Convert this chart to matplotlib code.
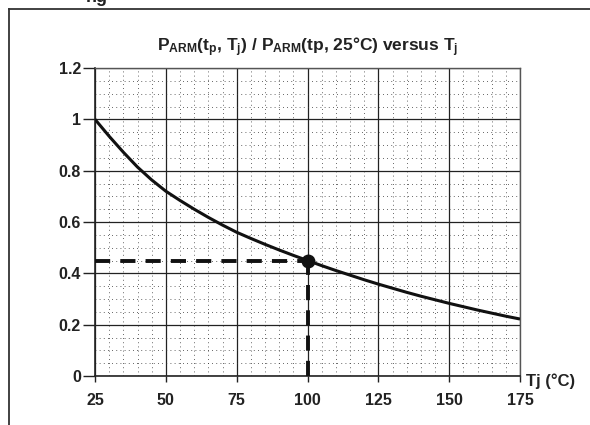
import numpy as np
import matplotlib
matplotlib.use('Agg')
import matplotlib.pyplot as plt
from matplotlib.lines import Line2D

plt.rcParams['font.family'] = ['Liberation Sans', 'DejaVu Sans']
plt.rcParams['font.weight'] = 'bold'
plt.rcParams['mathtext.fontset'] = 'custom'
plt.rcParams['mathtext.rm'] = 'Liberation Sans:bold'
plt.rcParams['mathtext.it'] = 'Liberation Sans:bold'
plt.rcParams['mathtext.bf'] = 'Liberation Sans:bold'

# curve
tj = [25, 30, 35, 40, 45, 50, 55, 60, 65, 70, 75, 80, 85, 90, 95, 100,
      105, 110, 115, 120, 125, 130, 135, 140, 145, 150, 155, 160, 165, 170, 175]
ratio = [1.00, 0.934, 0.872, 0.814, 0.764, 0.72, 0.684, 0.65, 0.618, 0.588, 0.56,
         0.536, 0.513, 0.491, 0.47, 0.45, 0.43, 0.411, 0.393, 0.375, 0.358,
         0.342, 0.326, 0.311, 0.297, 0.283, 0.27, 0.257, 0.245, 0.233, 0.222]

# operating point
tj_op = 100
ratio_op = 0.45

x_ticks = [25, 50, 75, 100, 125, 150, 175]
y_ticks = [0, 0.2, 0.4, 0.6, 0.8, 1, 1.2]
y_labels = ['0', '0.2', '0.4', '0.6', '0.8', '1', '1.2']

fig = plt.figure(figsize=(5.9, 4.25), dpi=100)
ax = fig.add_axes([95 / 590, 1 - 376 / 425, 425 / 590, 308 / 425])

# outer frame of the figure panel
fig.add_artist(Line2D([9 / 590, 1.0], [1 - 9 / 425, 1 - 9 / 425], transform=fig.transFigure,
                      color='#333333', lw=1.3))
fig.add_artist(Line2D([9 / 590, 9 / 590], [0, 1 - 9 / 425], transform=fig.transFigure,
                      color='#333333', lw=1.3))
fig.text(0.145, 1.005, 'ng', fontsize=13, ha='left', va='center', color='#222222')

ax.set_xlim(25, 175)
ax.set_ylim(0, 1.2)

ax.set_xticks(x_ticks)
ax.set_yticks(y_ticks)
ax.set_yticklabels(y_labels)
ax.set_xticks(np.arange(25, 176, 5), minor=True)
ax.set_yticks(np.arange(0, 1.21, 0.05), minor=True)
ax.grid(which='major', color='#222222', lw=0.9)
ax.grid(which='minor', color='#333333', lw=0.6, linestyle=(0, (1, 4)))
ax.tick_params(which='minor', length=0)
ax.tick_params(axis='x', which='major', length=4.5, width=1, pad=8, labelsize=11.5, color='#222222')
ax.tick_params(axis='y', which='major', length=9, width=1, pad=1, labelsize=11.5, color='#222222')
for lab in ax.get_xticklabels() + ax.get_yticklabels():
    lab.set_fontweight('bold')
    lab.set_color('#222222')

for side in ['top', 'right']:
    ax.spines[side].set_color('#555555')
    ax.spines[side].set_linewidth(1.0)
for side in ['left', 'bottom']:
    ax.spines[side].set_color('#222222')
    ax.spines[side].set_linewidth(1.2)

ax.plot(tj, ratio, color='#111111', lw=2.2, zorder=5, solid_capstyle='butt')
ax.plot([25, tj_op], [ratio_op, ratio_op], color='#111111', lw=2.8,
        linestyle=(0, (3.9, 2.6)), zorder=5)
ax.plot([tj_op, tj_op], [0, ratio_op], color='#111111', lw=2.8,
        linestyle=(0, (3.9, 2.6)), zorder=5)
ax.plot([tj_op], [ratio_op], 'o', color='#111111', ms=9, zorder=6)

ax.set_title(r'P$_{ARM}$(t$_p$, T$_j$) / P$_{ARM}$(tp, 25°C) versus T$_j$',
             fontsize=12.5, fontweight='bold', color='#222222', pad=12)
ax.text(1.015, -0.016, 'Tj (°C)', transform=ax.transAxes, fontsize=12, fontweight='bold',
        ha='left', va='center', color='#222222')

fig.savefig('out.png', dpi=100)
